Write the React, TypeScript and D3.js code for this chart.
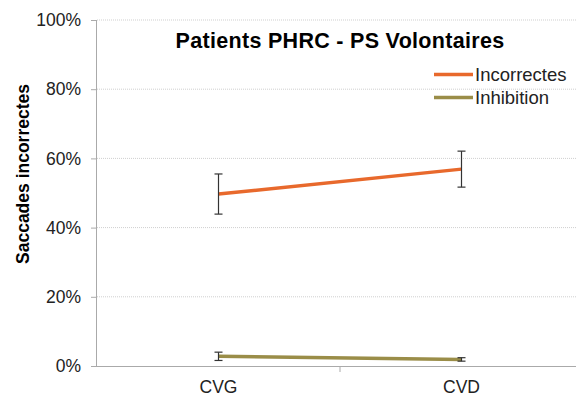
import React, { useRef, useEffect } from "react";
import * as d3 from "d3";

// catégories et séries
const categories = ["CVG", "CVD"];
const incorrectes = [0.497, 0.569];
const incorrectesErr = [0.058, 0.052];
const inhibition = [0.028, 0.019];
const inhibitionErr = [0.012, 0.005];
const yTicks = [0, 0.2, 0.4, 0.6, 0.8, 1];

const series = [
  { name: "Incorrectes", values: incorrectes, err: incorrectesErr, color: "#E8692C" },
  { name: "Inhibition", values: inhibition, err: inhibitionErr, color: "#9A8D48" },
];

const W = 576;
const H = 396;
const margin = { top: 20, right: -7, bottom: 30, left: 97 };

const App = () => {
  const ref = useRef<SVGSVGElement | null>(null);

  useEffect(() => {
    if (!ref.current) return;
    const svg = d3.select(ref.current);
    svg.selectAll("*").remove();

    const font = "'Liberation Sans', Arial, sans-serif";
    const x0 = margin.left;
    const x1 = W - margin.right;
    const y0 = H - margin.bottom;

    const x = d3.scaleBand<string>().domain(categories).range([x0, x1]);
    const y = d3.scaleLinear().domain([0, 1]).range([y0, margin.top]);
    const cx = (c: string) => (x(c) as number) + x.bandwidth() / 2;

    // grille pointillée
    svg
      .append("g")
      .selectAll("line")
      .data(yTicks.filter((t) => t > 0))
      .enter()
      .append("line")
      .attr("x1", x0)
      .attr("x2", W)
      .attr("y1", (d) => y(d))
      .attr("y2", (d) => y(d))
      .attr("stroke", "#cfcfcf")
      .attr("stroke-width", 1)
      .attr("stroke-dasharray", "1,1");

    // axe Y
    const yAxis = svg
      .append("g")
      .attr("transform", `translate(${x0},0)`)
      .call(
        d3
          .axisLeft(y)
          .tickValues(yTicks)
          .tickFormat(d3.format(".0%"))
          .tickSize(6)
          .tickPadding(10)
      );
    yAxis.select(".domain").attr("stroke", "#aaaaaa").attr("d", `M-0.5,${y0}V${margin.top}`);
    yAxis.selectAll(".tick line").attr("stroke", "#aaaaaa");
    yAxis
      .selectAll(".tick text")
      .style("font-family", font)
      .style("font-size", "17.5px")
      .attr("fill", "#222");

    // axe X
    const xAxis = svg.append("g").attr("transform", `translate(0,${y0})`);
    xAxis
      .append("line")
      .attr("x1", x0)
      .attr("x2", W)
      .attr("y1", 0.5)
      .attr("y2", 0.5)
      .attr("stroke", "#aaaaaa");
    xAxis
      .append("line")
      .attr("x1", x(categories[1]) as number)
      .attr("x2", x(categories[1]) as number)
      .attr("y1", 0)
      .attr("y2", 6)
      .attr("stroke", "#aaaaaa");
    xAxis
      .selectAll("text")
      .data(categories)
      .enter()
      .append("text")
      .attr("x", (d) => cx(d))
      .attr("y", 27)
      .attr("text-anchor", "middle")
      .style("font-family", font)
      .style("font-size", "17.5px")
      .attr("fill", "#222")
      .text((d) => d);

    // séries
    const line = d3
      .line<number>()
      .x((_, i) => cx(categories[i]))
      .y((d) => y(d));

    series.forEach((s) => {
      svg
        .append("path")
        .datum(s.values)
        .attr("fill", "none")
        .attr("stroke", s.color)
        .attr("stroke-width", 3.5)
        .attr("d", line);

      // barres d'erreur
      const eb = svg.append("g");
      s.values.forEach((v, i) => {
        const px = cx(categories[i]);
        const top = y(v + s.err[i]);
        const bot = y(v - s.err[i]);
        eb.append("line")
          .attr("x1", px).attr("x2", px).attr("y1", top).attr("y2", bot)
          .attr("stroke", "#333").attr("stroke-width", 1.2);
        [top, bot].forEach((yy) =>
          eb.append("line")
            .attr("x1", px - 4).attr("x2", px + 4).attr("y1", yy).attr("y2", yy)
            .attr("stroke", "#333").attr("stroke-width", 1.2)
        );
      });
    });

    // titre
    svg
      .append("text")
      .attr("x", 340)
      .attr("y", 47.5)
      .attr("text-anchor", "middle")
      .style("font-family", font)
      .style("font-size", "21.5px")
      .style("font-weight", "bold")
      .style("letter-spacing", "0.3px")
      .attr("fill", "#000")
      .text("Patients PHRC - PS Volontaires");

    // légende
    const legend = svg.append("g");
    series.forEach((s, i) => {
      const ly = 74.5 + i * 23;
      legend.append("line")
        .attr("x1", 434).attr("x2", 473).attr("y1", ly).attr("y2", ly)
        .attr("stroke", s.color).attr("stroke-width", 3.5);
      legend.append("text")
        .attr("x", 475).attr("y", ly + 6.5)
        .style("font-family", font)
        .style("font-size", "18.5px")
        .attr("fill", "#222")
        .text(s.name);
    });

    // titre axe Y
    svg
      .append("text")
      .attr("transform", `translate(29,174) rotate(-90)`)
      .attr("text-anchor", "middle")
      .style("font-family", font)
      .style("font-size", "17.5px")
      .style("font-weight", "bold")
      .attr("fill", "#000")
      .text("Saccades incorrectes");
  }, []);

  return (
    <svg
      ref={ref}
      width={W}
      height={H}
      style={{ position: "absolute", left: 0, top: 0, background: "#fff" }}
    />
  );
};

export default App;
